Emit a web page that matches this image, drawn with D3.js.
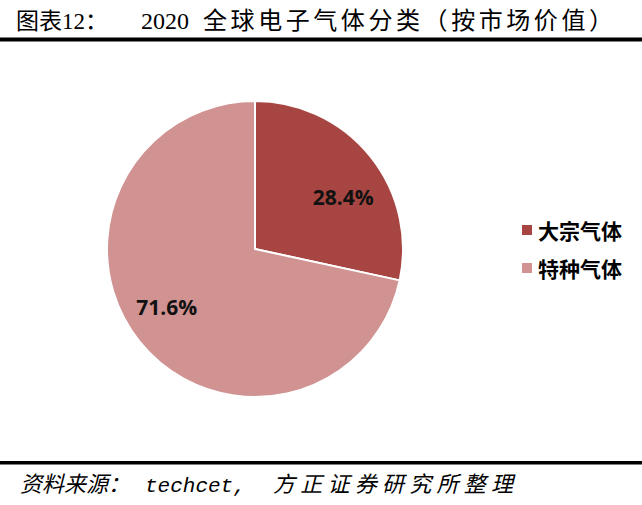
<!DOCTYPE html>
<html>
<head>
<meta charset="utf-8">
<script src="https://cdn.jsdelivr.net/npm/d3@7"></script>
<style>
  body { margin: 0; background: #fff; }
  svg { display: block; }
</style>
</head>
<body>
<div id="container"></div>
<script>
// data
const categories = ["大宗气体", "特种气体"]
const values = [28.4, 71.6]
const colors = ["#A64541", "#D09391"]

const titleParts = ["图表12：", "2020", "全球电子气体分类（按市场价值）"]
const sourceParts = ["资料来源：", "techcet,", "方正证券研究所整理"]

function drawChart() {
    let width = 642
    let height = 505
    let cx = 255, cy = 249, radius = 148

    let svg = d3.select("#container")
        .append("svg")
        .attr("width", width)
        .attr("height", height)
        .attr("viewBox", [0, 0, width, height])

    // title
    let cjk = "'Noto Sans CJK SC', sans-serif"
    let serif = "'Liberation Serif', serif"

    svg.append("text")
        .attr("x", 16).attr("y", 29)
        .attr("font-family", serif + "," + cjk)
        .attr("font-size", 23)
        .text(titleParts[0])
    svg.append("text")
        .attr("x", 141).attr("y", 29)
        .attr("font-family", serif)
        .attr("font-size", 24)
        .text(titleParts[1])
    svg.append("text")
        .attr("x", 203).attr("y", 29)
        .attr("font-family", cjk)
        .attr("font-size", 24)
        .attr("textLength", 410)
        .attr("lengthAdjust", "spacing")
        .text(titleParts[2])

    // rules
    svg.append("rect").attr("x", 0).attr("y", 37.5).attr("width", width).attr("height", 4).attr("fill", "#000")
    svg.append("rect").attr("x", 0).attr("y", 461).attr("width", width).attr("height", 3.5).attr("fill", "#000")

    // pie
    let color = d3.scaleOrdinal().domain(categories).range(colors)

    let pie = d3.pie().sort(null).value(d => d.value)
    let arcs = pie(categories.map((c, i) => ({name: c, value: values[i]})))

    let arc = d3.arc().innerRadius(0).outerRadius(radius)

    let g = svg.append("g").attr("transform", `translate(${cx},${cy})`)

    g.selectAll("path")
        .data(arcs)
        .join("path")
            .attr("d", arc)
            .attr("fill", d => color(d.data.name))
            .attr("stroke", "#fff")
            .attr("stroke-width", 2)
            .attr("stroke-linejoin", "round")

    // labels a bit past the middle angle, like excel's best fit
    let labelR = 104
    g.selectAll("text")
        .data(arcs)
        .join("text")
            .attr("transform", d => {
                let a = (d.startAngle + d.endAngle) / 2 + 0.12
                return `translate(${labelR * Math.sin(a)},${-labelR * Math.cos(a)})`
            })
            .attr("dy", 3)
            .attr("text-anchor", "middle")
            .attr("dominant-baseline", "central")
            .attr("font-family", "'Open Sans', sans-serif")
            .attr("font-weight", "bold")
            .attr("font-size", 21)
            .attr("fill", "#111")
            .text(d => d.data.value.toFixed(1) + "%")

    // legend
    let legend = svg.append("g")
        .selectAll("g")
        .data(categories)
        .join("g")
            .attr("transform", (d, i) => `translate(522,${225 + i * 38})`)

    legend.append("rect")
        .attr("width", 10).attr("height", 10)
        .attr("fill", d => color(d))

    legend.append("text")
        .attr("x", 16).attr("y", 5)
        .attr("dominant-baseline", "central")
        .attr("font-family", cjk)
        .attr("font-weight", "bold")
        .attr("font-size", 21)
        .attr("fill", "#000")
        .text(d => d)

    // source line
    svg.append("text")
        .attr("x", 20).attr("y", 492)
        .attr("font-family", cjk)
        .attr("font-style", "italic")
        .attr("font-size", 22)
        .text(sourceParts[0])
    svg.append("text")
        .attr("x", 145).attr("y", 492)
        .attr("font-family", "'Liberation Mono', monospace")
        .attr("font-style", "italic")
        .attr("font-size", 21)
        .text(sourceParts[1])
    svg.append("text")
        .attr("x", 273).attr("y", 492)
        .attr("font-family", cjk)
        .attr("font-style", "italic")
        .attr("font-size", 22)
        .attr("textLength", 240)
        .attr("lengthAdjust", "spacing")
        .text(sourceParts[2])

    return svg.node()
}

drawChart()
</script>
</body>
</html>
